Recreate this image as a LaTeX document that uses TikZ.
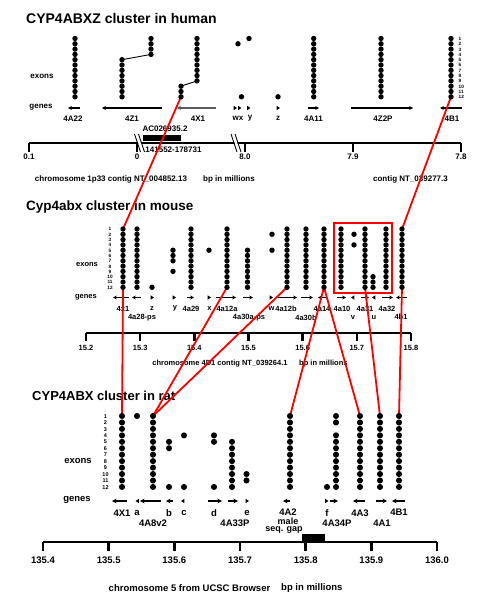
\documentclass[tikz,border=0pt]{standalone}
\usepackage{fontspec}
\setmainfont{Liberation Sans}
\usetikzlibrary{arrows.meta}
\newcommand\dotcol[5]{\foreach \k in {#4,...,#5}{\fill (#1,{#2+(\k-1)*#3}) circle (\dr);}}
\newcommand\tri[3]{\fill ({#1-1.3*#3},#2-2.2) -- ({#1+1.9*#3},#2) -- ({#1-1.3*#3},#2+2.2) -- cycle;}
\def\dr{2.7}
\begin{document}
\begin{tikzpicture}[x=1pt,y=-1pt,
  title/.style={anchor=west,inner sep=0,font=\bfseries\fontsize{14}{14}\selectfont},
  hl/.style={inner sep=0,font=\bfseries\fontsize{8}{8}\selectfont},
  ml/.style={inner sep=0,font=\bfseries\fontsize{7.5}{7.5}\selectfont},
  rl/.style={inner sep=0,font=\bfseries\fontsize{9.5}{9.5}\selectfont},
  rls/.style={inner sep=0,font=\bfseries\fontsize{9}{9}\selectfont},
  hnum/.style={inner sep=0,font=\bfseries\fontsize{4.7}{4.7}\selectfont},
  rnum/.style={inner sep=0,font=\bfseries\fontsize{5.5}{5.5}\selectfont},
  garrow/.style={line width=1.1,-{Stealth[length=3.8,width=3.8]}},
  rarrow/.style={line width=1.6,-{Stealth[length=4.5,width=4.5]}},
  axisl/.style={line width=2.6},
  redl/.style={red,line width=1.8},
  redbox/.style={red,line width=2.6}]
\useasboundingbox (0,0) rectangle (501,602);

%================ HUMAN =================
\node[title] (ht) at (26,18) {CYP4ABXZ cluster in human};
\node[hl] (hex) at (42,76) {exons};
\node[hl] (hge) at (41,107) {genes};
\foreach \k in {1,...,12}{\node[hnum,anchor=west] (hn\k) at (458.5,{38.8+(\k-1)*5.3}) {\k};}
% gene arrows
\draw[garrow] (80,108) -- (68,108);
\draw[garrow] (162,108) -- (102,108);
\draw[garrow,black!65,line width=1.5] (216,108) -- (177,108);
\tri{235}{108}{1}\tri{239.5}{108}{1}\tri{248.5}{108}{1}\tri{278}{108}{1}
\draw[garrow] (308,108) -- (319,108);
\draw[garrow] (351,108) -- (413,108);
\draw[garrow] (462,108) -- (440,108);
\node[hl] (hg1) at (73,118.5) {4A22};
\node[hl] (hg2) at (132,118.5) {4Z1};
\node[hl] (hg3) at (198,118.5) {4X1};
\node[hl] (hg4) at (238,118.5) {wx};
\node[hl] (hg5) at (250,118.5) {y};
\node[hl] (hg6) at (278,118.5) {z};
\node[hl] (hg7) at (313.5,118.5) {4A11};
\node[hl] (hg8) at (383,118.5) {4Z2P};
\node[hl] (hg9) at (452,118.5) {4B1};
% contig box
\node[hl] (hac) at (165,129) {AC026935.2};
\fill (143,135) rectangle (181,141);
\node[hl] (hrg) at (173.5,149.5) {141552-178731};
% axis
\draw[axisl] (29,143) -- (461,143);
\foreach \x in {29,137,245,353,461}{\draw[axisl] (\x,143) -- (\x,152);}
\draw[white,line width=2.6] (136.5,134) -- (142.5,152);
\draw[line width=0.8] (134.5,134) -- (140.5,152) (138.5,134) -- (144.5,152);
\draw[white,line width=2.6] (233,134) -- (239,152);
\draw[line width=0.8] (231,134) -- (237,152) (235,134) -- (241,152);
\node[hl] (ht1) at (29,156.5) {0.1};
\node[hl] (ht2) at (137,156.5) {0};
\node[hl] (ht3) at (245,156.5) {8.0};
\node[hl] (ht4) at (353,156.5) {7.9};
\node[hl] (ht5) at (461,156.5) {7.8};
\node[hl] (hc1) at (111,179) {chromosome 1p33 contig NT\_004852.13};
\node[hl,anchor=west] (hc2) at (203,179) {bp in millions};
\node[hl] (hc3) at (410.5,179) {contig NT\_039277.3};

%================ MOUSE =================
\node[title,font=\bfseries\fontsize{13.5}{13.5}\selectfont] (mt) at (26,207) {Cyp4abx cluster in mouse};
\node[ml] (mex) at (87,265) {exons};
\node[ml] (mge) at (86,297) {genes};
\foreach \k in {1,...,12}{\node[hnum] (mn\k) at (110,{229.3+(\k-1)*5.3}) {\k};}
\draw[garrow] (129,297.5) -- (113,297.5);
\draw[garrow] (141,297.5) -- (132,297.5);
\tri{152}{297.5}{1}\tri{174}{297.5}{1}
\draw[garrow] (187,297.5) -- (194,297.5);
\tri{209}{297.5}{1}
\draw[garrow] (216,297.5) -- (236,297.5);
\draw[garrow] (243,297.5) -- (253,297.5);
\tri{271}{297.5}{1}
\draw[garrow] (277,297.5) -- (297,297.5);
\draw[garrow] (301,297.5) -- (313,297.5);
\draw[garrow] (327,297.5) -- (318,297.5);
\draw[garrow] (337,297.5) -- (346,297.5);
\tri{353}{297.5}{-1}
\draw[garrow] (361,297.5) -- (369,297.5);
\tri{374}{297.5}{-1}
\draw[garrow] (382,297.5) -- (393,297.5);
\draw[garrow] (407,297.5) -- (396,297.5);
\node[ml] (mg1) at (123,308.5) {4x1};
\node[ml] (mg2) at (142,318) {4a28-ps};
\node[ml] (mg3) at (152,308.5) {z};
\node[ml] (mg4) at (175,308.5) {y};
\node[ml] (mg5) at (191,308.5) {4a29};
\node[ml] (mg6) at (209.5,308.5) {x};
\node[ml] (mg7) at (227,308.5) {4a12a};
\node[ml] (mg8) at (249,318) {4a30a-ps};
\node[ml] (mg9) at (271.5,308.5) {w};
\node[ml] (mg10) at (286,308.5) {4a12b};
\node[ml] (mg11) at (306,318) {4a30b};
\node[ml] (mg12) at (322,308.5) {4a14};
\node[ml] (mg13) at (342,308.5) {4a10};
\node[ml] (mg14) at (353,318) {v};
\node[ml] (mg15) at (365,308.5) {4a31};
\node[ml] (mg16) at (374,318) {u};
\node[ml] (mg17) at (387,308.5) {4a32};
\node[ml] (mg18) at (401,316.5) {4b1};
\draw[axisl] (86,333) -- (411,333);
\foreach \i/\t in {0/15.2,1/15.3,2/15.4,3/15.5,4/15.6,5/15.7,6/15.8}{
  \draw[axisl] ({86+\i*54.17},333) -- ({86+\i*54.17},341);
  \node[ml] (mtk\i) at ({86+\i*54.17},347.5) {\t};}
\node[ml] (mc1) at (220,364) {chromosome 4D1 contig NT\_039264.1};
\node[ml,anchor=west] (mc2) at (299,364) {bp in millions};

%================ RAT =================
\node[title,font=\bfseries\fontsize{13}{13}\selectfont] (rt) at (32,396) {CYP4ABX cluster in rat};
\node[rl] (rex) at (78,461) {exons};
\node[rl] (rge) at (77,500) {genes};
\foreach \k in {1,...,12}{\node[rnum] (rn\k) at (105.5,{416.3+(\k-1)*6.45}) {\k};}
\draw[rarrow] (127,501) -- (112,501);
\tri{137.5}{501}{-1}
\draw[rarrow] (161,501) -- (140,501);
\draw[rarrow] (173,501) -- (166,501);
\tri{183}{501}{-1}
\draw[rarrow] (208,501) -- (222,501);
\draw[rarrow] (228,501) -- (238,501);
\tri{247}{501}{1}
\draw[rarrow] (290,501) -- (283,501);
\tri{326.5}{501}{1}
\draw[rarrow] (330,501) -- (338,501);
\draw[rarrow] (365,501) -- (353,501);
\draw[rarrow] (376,501) -- (387,501);
\draw[rarrow] (405,501) -- (392,501);
\node[rl] (rg1) at (122,513) {4X1};
\node[rl] (rg2) at (137,513) {a};
\node[rl] (rg3) at (153,523) {4A8v2};
\node[rl] (rg4) at (169,513) {b};
\node[rl] (rg5) at (184,512.5) {c};
\node[rl] (rg6) at (214,513) {d};
\node[rl] (rg7) at (235,523) {4A33P};
\node[rl] (rg8) at (247,513) {e};
\node[rl] (rg9) at (288,512.5) {4A2};
\node[rls] (rg10) at (288,520.8) {male};
\node[rls] (rg11) at (284,530.3) {seq. gap};
\node[rl] (rg12) at (327,513) {f};
\node[rl] (rg13) at (337,523) {4A34P};
\node[rl] (rg14) at (360,513) {4A3};
\node[rl] (rg15) at (382,523) {4A1};
\node[rl] (rg16) at (399,512) {4B1};
\fill (302,533.5) rectangle (325,542);
\draw[axisl] (43,542) -- (437,542);
\foreach \i/\t in {0/135.4,1/135.5,2/135.6,3/135.7,4/135.8,5/135.9,6/136.0}{
  \draw[axisl] ({43+\i*65.67},542) -- ({43+\i*65.67},551);
  \node[rl] (rtk\i) at ({43+\i*65.67},560) {\t};}
\node[rl] (rc1) at (189.5,588) {chromosome 5 from UCSC Browser};
\node[rl,anchor=west] (rc2) at (281,588) {bp in millions};

%================ RED CONNECTORS =================
\coordinate (hX1) at (181,96.8);
\coordinate (hB1) at (451,96.8);
\coordinate (mx1t) at (123,229);
\coordinate (mx1b) at (123,287.3);
\coordinate (mb1t) at (402,229);
\coordinate (mb1b) at (402,287.3);
\coordinate (m12a) at (227,287.3);
\coordinate (m12b) at (287,287.3);
\coordinate (m14) at (324,287.3);
\coordinate (m31) at (365,287.3);
\coordinate (rX1) at (122,416);
\coordinate (rA8) at (153,416);
\coordinate (rA2) at (290,416);
\coordinate (rA3) at (360,416);
\coordinate (rA1) at (380,416);
\coordinate (rB1) at (399,416);
\draw[redl] (hX1) -- (mx1t);
\draw[redl] (hB1) -- (mb1t);
\draw[redl] (mx1b) -- (rX1);
\draw[redl] (m12a) -- (rA8);
\draw[redl] (m12b) -- (rA8);
\draw[redl] (m14) -- (rA2);
\draw[redl] (m14) -- (rA3);
\draw[redl] (m31) -- (rA1);
\draw[redl] (mb1b) -- (rB1);
\draw[redbox] (334,223) rectangle (392,293);

%================ DOTS =================
% human
\dotcol{75}{38.5}{5.3}{1}{12}
\dotcol{122}{38.5}{5.3}{5}{12}
\dotcol{151}{38.5}{5.3}{1}{4}
\draw[line width=0.9] (122,59.7) -- (151,54.4);
\dotcol{181}{38.5}{5.3}{10}{12}
\dotcol{197}{38.5}{5.3}{1}{9}
\draw[line width=0.9] (181,86.2) -- (197,80.9);
\fill (238,43.8) circle (\dr);
\fill (241.5,96.8) circle (\dr);
\fill (249,38.5) circle (\dr);
\fill (278,96.8) circle (\dr);
\dotcol{313.7}{38.5}{5.3}{1}{12}
\dotcol{381}{38.5}{5.3}{1}{12}
\dotcol{451}{38.5}{5.3}{1}{12}
% mouse
\dotcol{123}{229}{5.3}{1}{12}
\dotcol{137}{229}{5.3}{1}{12}
\dotcol{152}{229}{5.3}{12}{12}
\dotcol{173}{229}{5.3}{5}{7}
\dotcol{173}{229}{5.3}{9}{9}
\dotcol{191}{229}{5.3}{1}{12}
\dotcol{209}{229}{5.3}{5}{5}
\dotcol{227}{229}{5.3}{1}{12}
\dotcol{247.5}{229}{5.3}{5}{12}
\dotcol{272}{229}{5.3}{2}{2}
\dotcol{272}{229}{5.3}{5}{5}
\dotcol{287}{229}{5.3}{1}{12}
\dotcol{306}{229}{5.3}{1}{12}
\dotcol{324}{229}{5.3}{1}{12}
\dotcol{341}{229}{5.3}{1}{12}
\dotcol{354}{229}{5.3}{2}{2}
\dotcol{354}{229}{5.3}{4}{4}
\dotcol{365}{229}{5.3}{1}{12}
\dotcol{373}{229}{5.3}{10}{12}
\dotcol{386}{229}{5.3}{1}{12}
\dotcol{402}{229}{5.3}{1}{12}
% rat
\def\dr{3.05}
\dotcol{122}{416}{6.45}{1}{12}
\dotcol{137}{416}{6.45}{1}{1}
\dotcol{153}{416}{6.45}{1}{12}
\dotcol{169}{416}{6.45}{5}{6}
\dotcol{169}{416}{6.45}{12}{12}
\dotcol{184}{416}{6.45}{4}{4}
\dotcol{184}{416}{6.45}{12}{12}
\dotcol{214}{416}{6.45}{4}{5}
\dotcol{214}{416}{6.45}{12}{12}
\dotcol{232}{416}{6.45}{5}{12}
\dotcol{246.5}{416}{6.45}{10}{11}
\dotcol{290}{416}{6.45}{1}{12}
\dotcol{327}{416}{6.45}{12}{12}
\dotcol{336}{416}{6.45}{1}{2}
\dotcol{336}{416}{6.45}{4}{12}
\dotcol{360}{416}{6.45}{1}{12}
\dotcol{380}{416}{6.45}{1}{12}
\dotcol{399}{416}{6.45}{1}{12}
\end{tikzpicture}
\end{document}
